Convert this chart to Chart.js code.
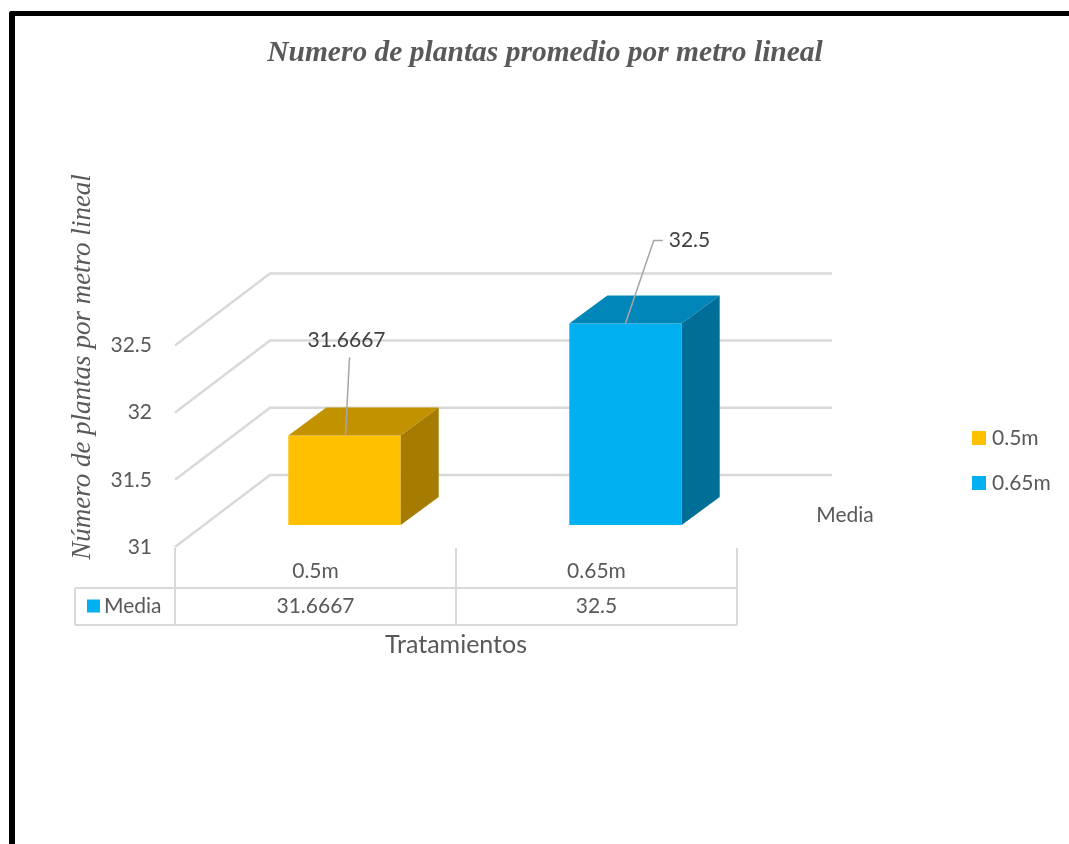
<!DOCTYPE html>
<html>
<head>
<meta charset="utf-8">
<title>Numero de plantas promedio por metro lineal</title>
<script src="https://cdn.jsdelivr.net/npm/chart.js@4/dist/chart.umd.min.js"></script>
<style>
  html, body { margin: 0; padding: 0; background: #fff; }
  #wrap { position: relative; width: 1069px; height: 844px; overflow: hidden; }
  #myChart { position: absolute; left: 0; top: 0; }
  #frame {
    position: absolute; left: 9px; top: 11px; width: 1200px; height: 1000px;
    border-top: 5px solid #000; border-left: 6px solid #000; border-top-left-radius: 3px;
    pointer-events: none;
  }
</style>
</head>
<body>
<div id="wrap">
  <canvas id="myChart" width="1069" height="844"></canvas>
  <div id="frame"></div>
</div>
<script>
// Data
const categories = ['0.5m', '0.65m'];
const seriesName = 'Media';
const mediaValues = [31.6667, 32.5];
const yTicks = [31, 31.5, 32, 32.5];

// Colours per column: front, top, side
const frontColors = ['#FFC000', '#00B0F0'];
const topColors = ['#C39200', '#0086B8'];
const sideColors = ['#A67C00', '#006F98'];

const TEXT = '#595959';
const GRID = '#d9d9d9';
const FONT = 'Lato, "Liberation Sans", sans-serif';
const SERIF = '"Liberation Serif", "DejaVu Serif", serif';

// Oblique 3D offsets (from the front plane)
const BAR_SHIFT = { x: 29, y: -22 };   // bars sit a bit back
const BAR_DEPTH = { x: 38, y: -28 };   // column depth
const WALL_SHIFT = { x: 95, y: -72 };  // back wall

// Data label placement relative to the column's front top edge
const labelOffsets = [
    { dx: 2, dy: -95, leader: 'below' },
    { dx: 64, dy: -83, leader: 'left' }
];

// --- Walls: back wall gridlines and left side wall diagonals ---
const walls3d = {
    id: 'walls3d',
    beforeDatasetsDraw(chart) {
        const { ctx } = chart;
        const ys = chart.scales.y;
        const xs = chart.scales.x;
        ctx.save();
        ctx.strokeStyle = GRID;
        ctx.lineWidth = 2.5;
        yTicks.forEach(v => {
            const py = ys.getPixelForValue(v);
            ctx.beginPath();
            ctx.moveTo(xs.left, py);
            ctx.lineTo(xs.left + WALL_SHIFT.x, py + WALL_SHIFT.y);
            ctx.lineTo(xs.right + WALL_SHIFT.x, py + WALL_SHIFT.y);
            ctx.stroke();
        });
        ctx.restore();

        // shift the bars' front faces back into the box
        ctx.save();
        ctx.translate(BAR_SHIFT.x, BAR_SHIFT.y);
    },
    afterDatasetsDraw(chart) {
        const { ctx } = chart;
        ctx.restore();

        const meta = chart.getDatasetMeta(0);
        meta.data.forEach((bar, i) => {
            const p = bar.getProps(['x', 'y', 'base', 'width'], true);
            const left = p.x - p.width / 2 + BAR_SHIFT.x;
            const right = p.x + p.width / 2 + BAR_SHIFT.x;
            const top = p.y + BAR_SHIFT.y;
            const bottom = p.base + BAR_SHIFT.y;

            // top face
            ctx.fillStyle = topColors[i];
            ctx.beginPath();
            ctx.moveTo(left, top);
            ctx.lineTo(left + BAR_DEPTH.x, top + BAR_DEPTH.y);
            ctx.lineTo(right + BAR_DEPTH.x, top + BAR_DEPTH.y);
            ctx.lineTo(right, top);
            ctx.closePath();
            ctx.fill();

            // side face
            ctx.fillStyle = sideColors[i];
            ctx.beginPath();
            ctx.moveTo(right, top);
            ctx.lineTo(right + BAR_DEPTH.x, top + BAR_DEPTH.y);
            ctx.lineTo(right + BAR_DEPTH.x, bottom + BAR_DEPTH.y);
            ctx.lineTo(right, bottom);
            ctx.closePath();
            ctx.fill();
        });
    }
};

// --- Labels, data table, legend and axis title ---
const extras = {
    id: 'extras',
    afterDraw(chart) {
        const { ctx } = chart;
        const xs = chart.scales.x;
        const ys = chart.scales.y;
        const meta = chart.getDatasetMeta(0);
        ctx.save();

        // data labels with leader lines
        ctx.font = '21px ' + FONT;
        ctx.textAlign = 'center';
        ctx.textBaseline = 'middle';
        meta.data.forEach((bar, i) => {
            const p = bar.getProps(['x', 'y'], true);
            const fx = p.x + BAR_SHIFT.x;
            const fy = p.y + BAR_SHIFT.y;
            const off = labelOffsets[i];
            const lx = fx + off.dx;
            const ly = fy + off.dy;
            const txt = String(mediaValues[i]);
            const tw = ctx.measureText(txt).width;

            ctx.strokeStyle = '#a6a6a6';
            ctx.lineWidth = 1.5;
            ctx.beginPath();
            if (off.leader === 'below') {
                ctx.moveTo(lx + 3, ly + 17);
                ctx.lineTo(fx + 1, fy);
            } else {
                const sx = lx - tw / 2 - 6;
                ctx.moveTo(sx, ly);
                ctx.lineTo(sx - 9, ly);
                ctx.lineTo(fx, fy);
            }
            ctx.stroke();

            ctx.fillStyle = '#404040';
            ctx.fillText(txt, lx, ly);
        });

        // data table under the axis
        const bounds = [xs.left];
        for (let i = 0; i < categories.length - 1; i++) {
            bounds.push((xs.getPixelForValue(i) + xs.getPixelForValue(i + 1)) / 2);
        }
        bounds.push(xs.right);
        const tableLeft = 75;
        const row1 = ys.bottom + 41;
        const row2 = ys.bottom + 78;
        ctx.strokeStyle = GRID;
        ctx.lineWidth = 2;
        ctx.beginPath();
        bounds.forEach(bx => {
            ctx.moveTo(bx, ys.bottom + 1);
            ctx.lineTo(bx, row2);
        });
        ctx.moveTo(tableLeft, row1);
        ctx.lineTo(tableLeft, row2);
        ctx.moveTo(tableLeft, row1);
        ctx.lineTo(xs.right, row1);
        ctx.moveTo(tableLeft, row2);
        ctx.lineTo(xs.right, row2);
        ctx.stroke();

        const rowMid = (row1 + row2) / 2;
        ctx.fillStyle = TEXT;
        ctx.textAlign = 'center';
        mediaValues.forEach((v, i) => {
            ctx.fillText(String(v), xs.getPixelForValue(i), rowMid);
        });
        ctx.fillStyle = '#00B0F0';
        ctx.fillRect(87, rowMid - 7, 13, 13);
        ctx.fillStyle = TEXT;
        ctx.textAlign = 'left';
        ctx.fillText(seriesName, 104, rowMid);

        // series (depth) axis label
        ctx.textAlign = 'center';
        ctx.fillText(seriesName, xs.right + 108, ys.bottom - 32);

        // legend, one entry per category
        categories.forEach((c, i) => {
            const ly = 438 + i * 45;
            ctx.fillStyle = frontColors[i];
            ctx.fillRect(972, ly - 7, 14, 14);
            ctx.fillStyle = TEXT;
            ctx.textAlign = 'left';
            ctx.fillText(c, 992, ly);
        });

        // y axis title
        ctx.translate(83, 367);
        ctx.rotate(-Math.PI / 2);
        ctx.font = 'italic 27px ' + SERIF;
        ctx.textAlign = 'center';
        ctx.fillStyle = TEXT;
        ctx.fillText('Número de plantas por metro lineal', 0, 0);

        ctx.restore();
    }
};

// Chart
const ctx = document.getElementById('myChart').getContext('2d');
const myChart = new Chart(ctx, {
    type: 'bar',
    data: {
        labels: categories,
        datasets: [{
            label: seriesName,
            data: mediaValues,
            base: yTicks[0],
            backgroundColor: frontColors,
            borderWidth: 0,
            barPercentage: 0.4,
            categoryPercentage: 1.0,
            clip: false
        }]
    },
    options: {
        responsive: false,
        animation: false,
        layout: {
            padding: { left: 21, right: 0, top: 0, bottom: 184 }
        },
        scales: {
            x: {
                grid: { display: false, drawTicks: false },
                border: { display: false },
                ticks: {
                    color: TEXT,
                    font: { family: FONT, size: 21 },
                    padding: 12
                },
                title: {
                    display: true,
                    text: 'Tratamientos',
                    color: TEXT,
                    font: { family: FONT, size: 25 },
                    padding: 0
                },
                afterFit: scale => { scale.height = 113; }
            },
            y: {
                min: 31,
                max: 32.5,
                beginAtZero: false,
                grid: { display: false, drawTicks: false },
                border: { display: false },
                ticks: {
                    color: TEXT,
                    font: { family: FONT, size: 21 },
                    padding: 23,
                    callback: value => String(value)
                },
                afterBuildTicks: scale => {
                    scale.ticks = yTicks.map(v => ({ value: v }));
                },
                afterFit: scale => { scale.width = 154; }
            },
            // empty right axis that keeps room for the legend
            yRight: {
                type: 'linear',
                position: 'right',
                min: 31,
                max: 32.5,
                grid: { display: false, drawTicks: false },
                border: { display: false },
                ticks: { display: false },
                afterFit: scale => { scale.width = 332; }
            }
        },
        plugins: {
            legend: { display: false },
            tooltip: { enabled: false },
            title: {
                display: true,
                text: 'Numero de plantas promedio por metro lineal',
                color: TEXT,
                font: { family: SERIF, size: 29.5, style: 'italic', weight: 'bold' },
                padding: { top: 36, bottom: 274 }
            }
        }
    },
    plugins: [walls3d, extras]
});
</script>
</body>
</html>
